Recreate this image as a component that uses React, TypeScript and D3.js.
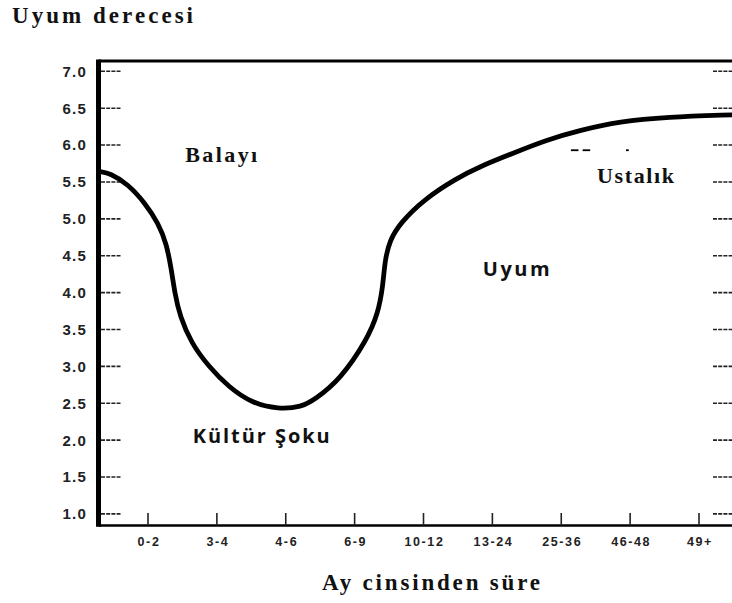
import React, { useRef, useEffect } from 'react';
import * as d3 from 'd3';

// period labels along the bottom (months)
const periods = ['0-2', '3-4', '4-6', '6-9', '10-12', '13-24', '25-36', '46-48', '49+'];

// y axis ticks (adjustment level)
const yTicks = [1.0, 1.5, 2.0, 2.5, 3.0, 3.5, 4.0, 4.5, 5.0, 5.5, 6.0, 6.5, 7.0];

// curve: position along the period axis (index units) and level
const curvePos = [-0.7, -0.55, -0.29, -0.04, 0.15, 0.27, 0.34, 0.39, 0.46, 0.63, 0.88, 1.17, 1.51, 1.89, 2.23, 2.42, 2.79, 3.18, 3.34, 3.41, 3.44, 3.51, 3.66, 4.0, 4.48, 4.82, 5.3, 5.79, 6.27, 6.85, 7.53, 8.48];
const curveLevel = [5.64, 5.62, 5.47, 5.21, 4.94, 4.66, 4.31, 3.99, 3.69, 3.31, 3.0, 2.72, 2.5, 2.42, 2.45, 2.55, 2.82, 3.36, 3.72, 4.08, 4.44, 4.71, 4.94, 5.26, 5.55, 5.71, 5.89, 6.07, 6.2, 6.32, 6.38, 6.41];

// phase labels
const phaseNames = ['Balayı', 'Kültür Şoku', 'Uyum', 'Ustalık'];
const phasePos = [0.54, 0.65, 4.86, 6.52];
const phaseLevel = [5.77, 1.96, 4.23, 5.49];

// little stray dashes near "Ustalık" in the scan
const dashFrom = [6.14, 6.31, 6.94];
const dashTo = [6.25, 6.42, 6.98];
const dashLevel = 5.93;

const App: React.FC = () => {
  const svgRef = useRef<SVGSVGElement>(null);

  useEffect(() => {
    if (!svgRef.current) return;
    const svg = d3.select(svgRef.current);
    svg.selectAll('*').remove();

    const width = 732;
    const height = 603;
    svg.attr('width', width).attr('height', height);

    const left = 98.5;
    const right = 735;
    const top = 61;
    const bottom = 525.5;

    const x = d3.scaleLinear().domain([0, periods.length - 1]).range([148, 699]);
    const y = d3.scaleLinear().domain([1, 7]).range([513.9, 71.3]);

    const serif = '"Liberation Serif", "Times New Roman", serif';
    const sans = '"Liberation Sans", Arial, sans-serif';
    const opensans = '"Open Sans", "Noto Sans", sans-serif';

    // frame
    svg.append('line')
      .attr('x1', left).attr('x2', right).attr('y1', top).attr('y2', top)
      .attr('stroke', '#000').attr('stroke-width', 3.2);
    svg.append('line')
      .attr('x1', left).attr('x2', right).attr('y1', bottom).attr('y2', bottom)
      .attr('stroke', '#000').attr('stroke-width', 2.6);
    svg.append('line')
      .attr('x1', left).attr('x2', left).attr('y1', top - 1.6).attr('y2', bottom + 1.3)
      .attr('stroke', '#000').attr('stroke-width', 5);

    // y ticks, both sides
    const yt = svg.append('g');
    yt.selectAll('.lt')
      .data(yTicks)
      .enter().append('line')
      .attr('x1', left + 2.5).attr('x2', left + 22)
      .attr('y1', d => y(d)).attr('y2', d => y(d))
      .attr('stroke', '#222').attr('stroke-width', 1.6)
      .attr('stroke-dasharray', '4,1.2');
    yt.selectAll('.rt')
      .data(yTicks)
      .enter().append('line')
      .attr('x1', 713).attr('x2', width)
      .attr('y1', d => y(d)).attr('y2', d => y(d))
      .attr('stroke', '#222').attr('stroke-width', 1.6)
      .attr('stroke-dasharray', '4,1.2');
    yt.selectAll('text')
      .data(yTicks)
      .enter().append('text')
      .attr('x', 87)
      .attr('y', d => y(d))
      .attr('dy', '0.36em')
      .attr('text-anchor', 'end')
      .attr('font-family', sans)
      .attr('font-weight', 'bold')
      .attr('font-size', 15)
      .attr('letter-spacing', 1.2)
      .attr('fill', '#222')
      .text(d => d.toFixed(1));

    // x ticks
    const xt = svg.append('g');
    xt.selectAll('line')
      .data(periods)
      .enter().append('line')
      .attr('x1', (d, i) => x(i)).attr('x2', (d, i) => x(i))
      .attr('y1', bottom).attr('y2', bottom - 12.5)
      .attr('stroke', '#222').attr('stroke-width', 1.6);
    xt.selectAll('text')
      .data(periods)
      .enter().append('text')
      .attr('x', (d, i) => x(i) + 1)
      .attr('y', 546)
      .attr('text-anchor', 'middle')
      .attr('font-family', sans)
      .attr('font-weight', 'bold')
      .attr('font-size', 12.5)
      .attr('letter-spacing', 1.6)
      .attr('fill', '#222')
      .text(d => d);

    // the curve
    const pts: [number, number][] = curvePos.map((p, i) => [p, curveLevel[i]]);
    const line = d3.line<[number, number]>()
      .x(d => x(d[0]))
      .y(d => y(d[1]))
      .curve(d3.curveBasis);
    svg.append('path')
      .attr('d', line(pts) as string)
      .attr('fill', 'none')
      .attr('stroke', '#000')
      .attr('stroke-width', 4.8)
      .attr('stroke-linecap', 'round');

    // stray dashes
    svg.selectAll('.dash')
      .data(dashFrom)
      .enter().append('line')
      .attr('x1', d => x(d)).attr('x2', (d, i) => x(dashTo[i]))
      .attr('y1', y(dashLevel)).attr('y2', y(dashLevel))
      .attr('stroke', '#000').attr('stroke-width', 1.8);

    // phase labels
    const serifPhases = ['Balayı', 'Ustalık'];
    const phaseWidths = [72, 137, 67, 77];
    svg.selectAll('.phase')
      .data(phaseNames)
      .enter().append('text')
      .attr('x', (d, i) => x(phasePos[i]))
      .attr('y', (d, i) => y(phaseLevel[i]))
      .attr('font-family', d => (serifPhases.includes(d) ? serif : opensans))
      .attr('font-weight', 'bold')
      .attr('font-size', d => (serifPhases.includes(d) ? 22 : 20))
      .attr('textLength', (d, i) => phaseWidths[i])
      .attr('lengthAdjust', 'spacing')
      .attr('fill', '#111')
      .text(d => d);

    // titles
    svg.append('text')
      .attr('x', 12).attr('y', 23)
      .attr('font-family', serif).attr('font-weight', 'bold').attr('font-size', 23)
      .attr('textLength', 181).attr('lengthAdjust', 'spacing')
      .attr('fill', '#111')
      .text('Uyum derecesi');
    svg.append('text')
      .attr('x', 322).attr('y', 590)
      .attr('font-family', serif).attr('font-weight', 'bold').attr('font-size', 23)
      .attr('textLength', 218).attr('lengthAdjust', 'spacing')
      .attr('fill', '#111')
      .text('Ay cinsinden süre');
  }, []);

  return <svg ref={svgRef} style={{ position: 'absolute', left: 0, top: 0, background: '#fff' }}></svg>;
};

export default App;
